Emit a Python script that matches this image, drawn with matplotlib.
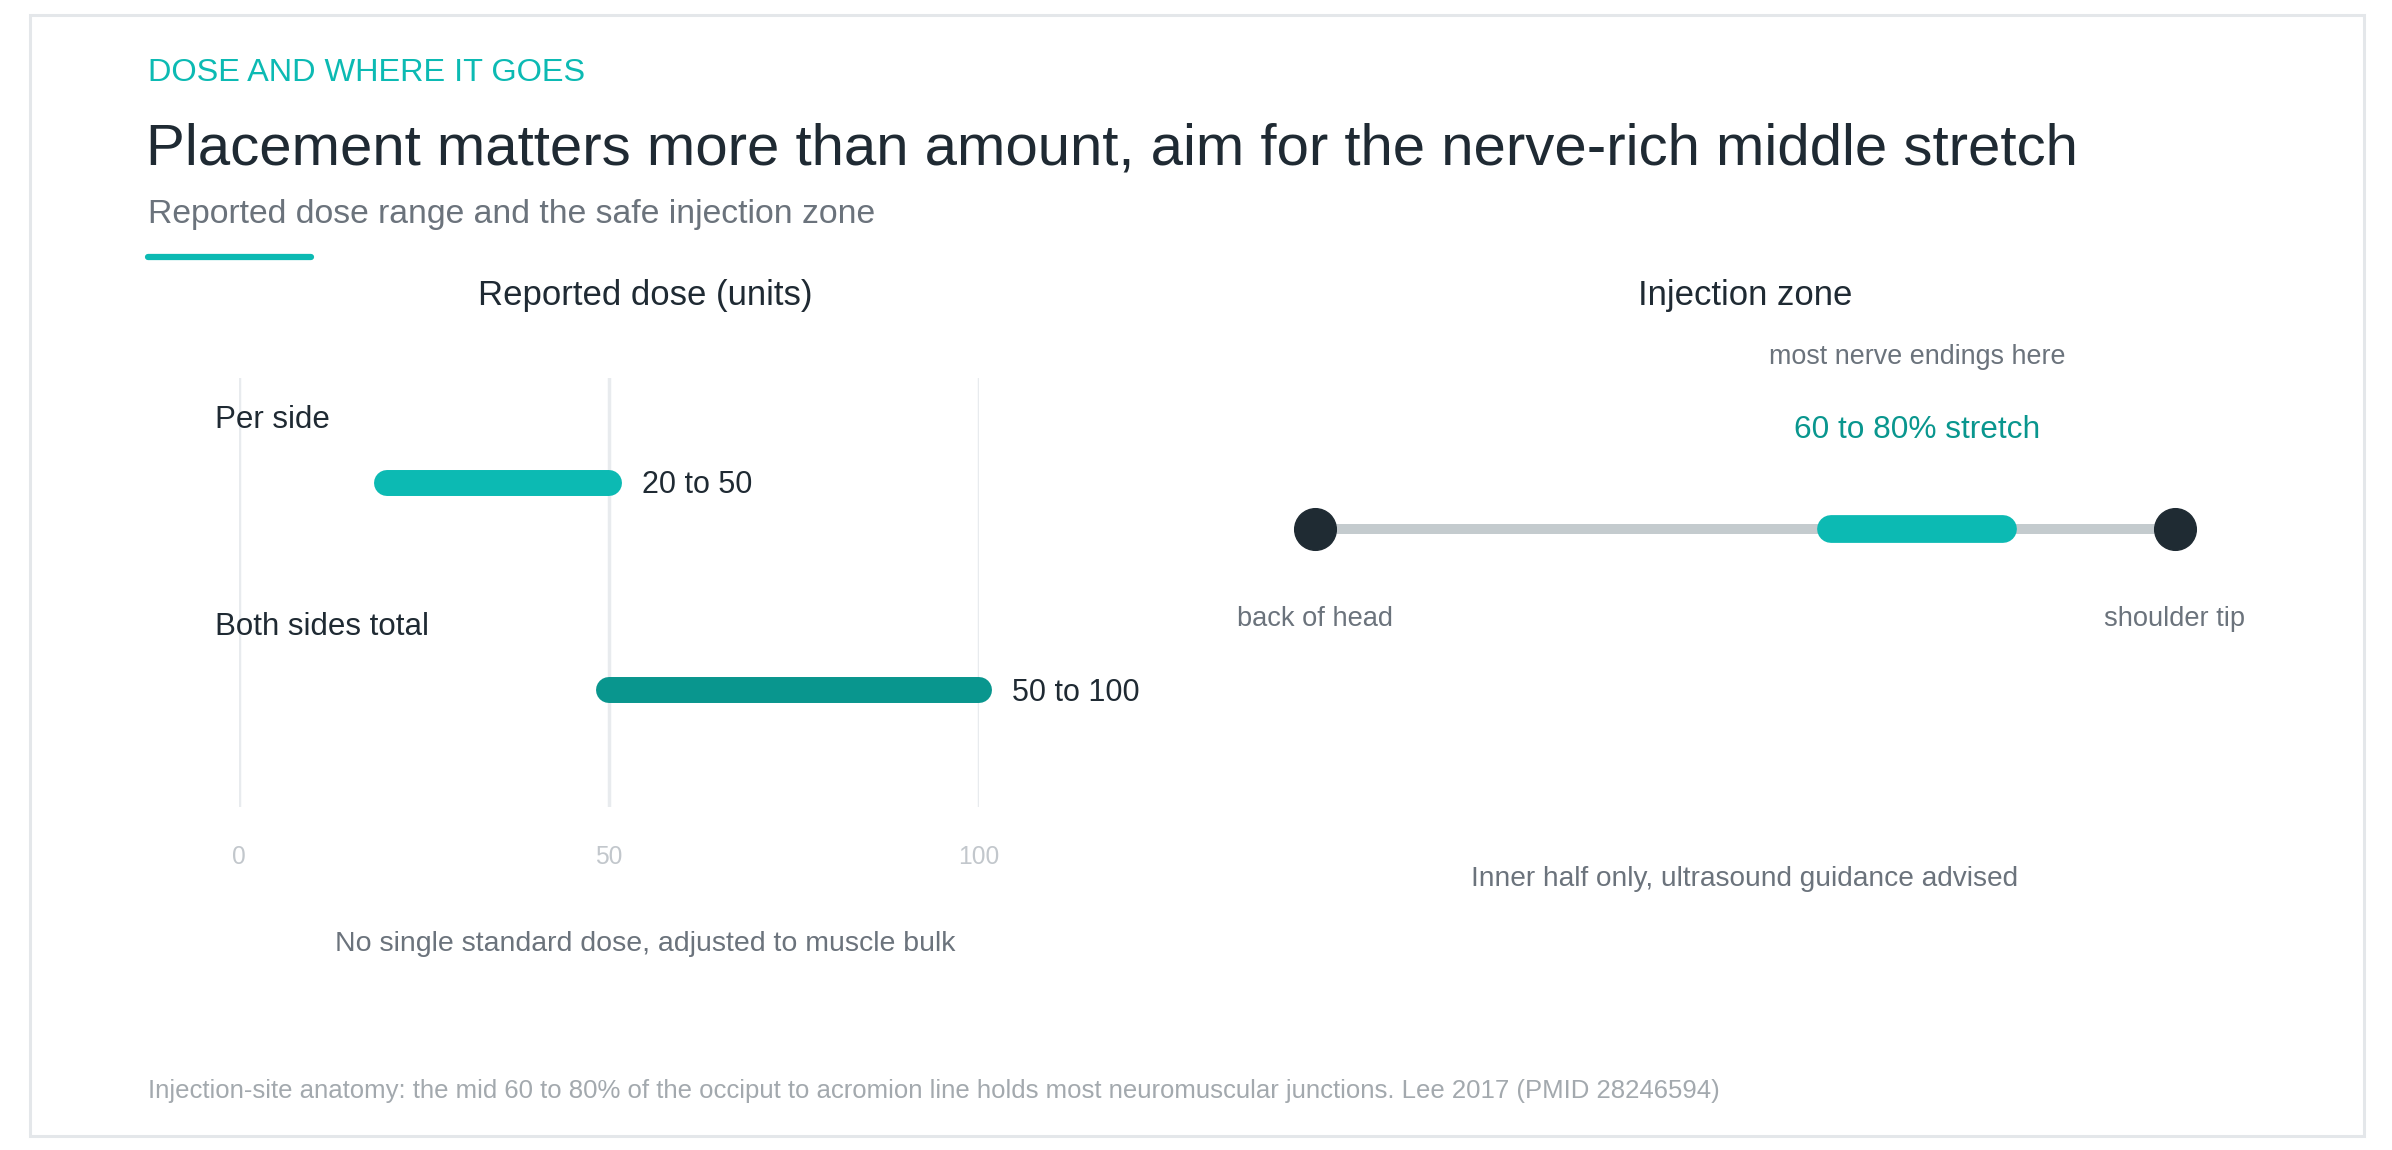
import matplotlib.pyplot as plt
from matplotlib.lines import Line2D
from matplotlib.patches import Rectangle

plt.rcParams['font.family'] = ['Liberation Sans', 'DejaVu Sans']

# data
categories = ['Per side', 'Both sides total']
dose_low = [20, 50]
dose_high = [50, 100]
dose_labels = ['20 to 50', '50 to 100']
dose_ticks = [0, 50, 100]
bar_colors = ['#0cbab3', '#09968e']

zone_start = 60
zone_end = 80
line_ends = [0, 100]
end_labels = ['back of head', 'shoulder tip']

W, H = 2392, 1150
fig = plt.figure(figsize=(W / 100, H / 100), dpi=100)
fig.patch.set_facecolor('white')

def fx(px):
    return px / W

def fy(py):
    # text centres sit a touch high with va='center', nudge down
    return 1 - py / H

# frame
fig.patches.append(Rectangle((fx(29.5), fy(1135.5)), fx(2334), 1121 / H,
                             transform=fig.transFigure, fill=False,
                             edgecolor='#e4e7ea', lw=2.2))

# header
fig.text(fx(148), fy(73), 'DOSE AND WHERE IT GOES', color='#0cbab3',
         fontsize=23.4, va='center', ha='left')
fig.text(fx(146), fy(149), 'Placement matters more than amount, aim for the nerve-rich middle stretch',
         color='#1f2a33', fontsize=41.9, va='center', ha='left')
fig.text(fx(148), fy(215), 'Reported dose range and the safe injection zone',
         color='#6b737c', fontsize=24.35, va='center', ha='left')
fig.lines.append(Line2D([fx(148), fx(311)], [fy(257), fy(257)], transform=fig.transFigure,
                        color='#0cbab3', lw=4.5, solid_capstyle='round'))

# left panel: dose ranges
ax = fig.add_axes([fx(239), fy(807), fx(740), 429 / H])
for i in range(len(categories)):
    ax.plot([dose_low[i], dose_high[i]], [i, i], color=bar_colors[i], lw=18.7,
            solid_capstyle='round', clip_on=False, zorder=3)
    ax.annotate(dose_labels[i], (dose_high[i], i + 0.012), xytext=(23.5, 0),
                textcoords='offset points', va='center', ha='left',
                fontsize=22, color='#1f2a33')
    ax.text(-3.2, i - 0.305, categories[i], va='center', ha='left',
            fontsize=22.5, color='#1f2a33')
ax.set_xlim(0, 100)
ax.set_ylim(1.565, -0.507)
ax.set_xticks(dose_ticks)
ax.set_xticklabels([str(t) for t in dose_ticks])
ax.set_yticks([])
ax.tick_params(axis='x', length=0, pad=27.5, labelsize=17.7, labelcolor='#c2c7cc')
ax.grid(axis='x', color='#e8ebee', lw=2.5)
ax.set_axisbelow(True)
for s in ax.spines.values():
    s.set_visible(False)

fig.text(fx(645), fy(295), 'Reported dose (units)', color='#1f2a33',
         fontsize=25, va='center', ha='center')
fig.text(fx(645), fy(944), 'No single standard dose, adjusted to muscle bulk',
         color='#6b737c', fontsize=20.5, va='center', ha='center')

# right panel: injection zone
ax2 = fig.add_axes([fx(1315), fy(900), fx(860), 570 / H])
ax2.set_xlim(0, 100)
ax2.set_ylim(0, 1)
ax2.axis('off')
yl = 0.651
ax2.plot(line_ends, [yl, yl], color='#c4cbce', lw=7.2, solid_capstyle='butt',
         clip_on=False, zorder=1)
ax2.plot([zone_start, zone_end], [yl, yl], color='#0cbab3', lw=20,
         solid_capstyle='round', clip_on=False, zorder=2)
ax2.plot(line_ends, [yl, yl], ls='none', marker='o', ms=30, color='#1f2b33',
         clip_on=False, zorder=3)
for x, lab in zip(line_ends, end_labels):
    ax2.text(x, 0.493, lab, ha='center', va='center', fontsize=19.6, color='#6b737c')
zmid = (zone_start + zone_end) / 2
ax2.text(zmid, 0.953, 'most nerve endings here', ha='center', va='center',
         fontsize=19.4, color='#6b737c')
ax2.text(zmid, 0.825, f'{zone_start} to {zone_end}% stretch', ha='center', va='center',
         fontsize=22.8, color='#09968e')
ax2.text(50, 0.037, 'Inner half only, ultrasound guidance advised', ha='center',
         va='center', fontsize=20.2, color='#6b737c')

fig.text(fx(1745), fy(295), 'Injection zone', color='#1f2a33',
         fontsize=25, va='center', ha='center')

# footer
fig.text(fx(148), fy(1091),
         'Injection-site anatomy: the mid 60 to 80% of the occiput to acromion line holds most neuromuscular junctions. Lee 2017 (PMID 28246594)',
         color='#a3a9ae', fontsize=18.55, va='center', ha='left')

fig.savefig('out.png', dpi=100, facecolor='white')
